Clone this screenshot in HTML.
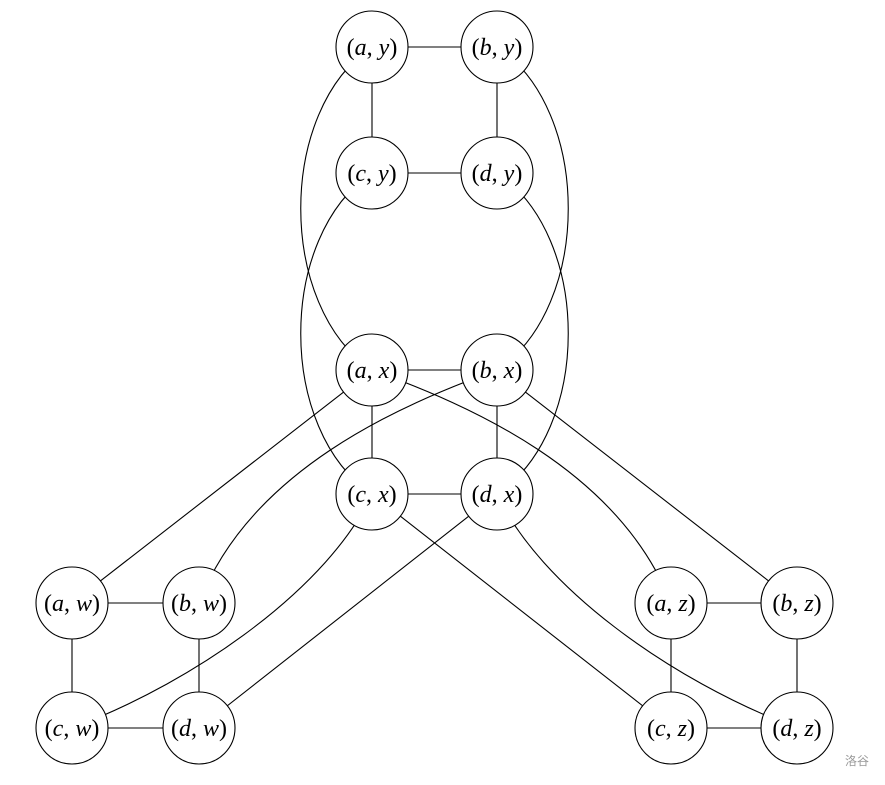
<!DOCTYPE html>
<html><head><meta charset="utf-8"><style>
html,body{margin:0;padding:0;background:#fff;}
svg text{font-family:"Liberation Serif",serif;font-size:24px;}
</style></head><body>
<svg width="885" height="780" viewBox="0 0 885 780" xmlns="http://www.w3.org/2000/svg">
<g stroke="#000" stroke-width="1.1" fill="none">
<!-- squares -->
<path d="M372,47H497M372,173H497M372,47V173M497,47V173"/>
<path d="M372,370H497M372,494H497M372,370V494M497,370V494"/>
<path d="M72,603H199M72,728H199M72,603V728M199,603V728"/>
<path d="M671,603H797M671,728H797M671,603V728M797,603V728"/>
<!-- arcs -->
<path d="M372,47 C277,110 277,307 372,370"/>
<path d="M372,173 C277,236 277,431 372,494"/>
<path d="M497,47 C592,110 592,307 497,370"/>
<path d="M497,173 C592,236 592,431 497,494"/>
<!-- to w -->
<path d="M372,370 L72,603"/>
<path d="M497,370 C400,405 250,470 199,603"/>
<path d="M372,494 C330,585 200,680 72,728"/>
<path d="M497,494 L199,728"/>
<!-- to z -->
<path d="M497,370 L797,603"/>
<path d="M372,370 C469,405 619,470 671,603"/>
<path d="M497,494 C539,585 669,680 797,728"/>
<path d="M372,494 L671,728"/>
</g>
<g stroke="#000" stroke-width="1.1" fill="#fff">
<circle cx="372" cy="47" r="36"/><circle cx="497" cy="47" r="36"/>
<circle cx="372" cy="173" r="36"/><circle cx="497" cy="173" r="36"/>
<circle cx="372" cy="370" r="36"/><circle cx="497" cy="370" r="36"/>
<circle cx="372" cy="494" r="36"/><circle cx="497" cy="494" r="36"/>
<circle cx="72" cy="603" r="36"/><circle cx="199" cy="603" r="36"/>
<circle cx="72" cy="728" r="36"/><circle cx="199" cy="728" r="36"/>
<circle cx="671" cy="603" r="36"/><circle cx="797" cy="603" r="36"/>
<circle cx="671" cy="728" r="36"/><circle cx="797" cy="728" r="36"/>
</g>
<g text-anchor="middle" fill="#000">
<text x="372" y="55">(<tspan font-style="italic">a</tspan>, <tspan font-style="italic">y</tspan>)</text>
<text x="497" y="55">(<tspan font-style="italic">b</tspan>, <tspan font-style="italic">y</tspan>)</text>
<text x="372" y="181">(<tspan font-style="italic">c</tspan>, <tspan font-style="italic">y</tspan>)</text>
<text x="497" y="181">(<tspan font-style="italic">d</tspan>, <tspan font-style="italic">y</tspan>)</text>
<text x="372" y="378">(<tspan font-style="italic">a</tspan>, <tspan font-style="italic">x</tspan>)</text>
<text x="497" y="378">(<tspan font-style="italic">b</tspan>, <tspan font-style="italic">x</tspan>)</text>
<text x="372" y="502">(<tspan font-style="italic">c</tspan>, <tspan font-style="italic">x</tspan>)</text>
<text x="497" y="502">(<tspan font-style="italic">d</tspan>, <tspan font-style="italic">x</tspan>)</text>
<text x="72" y="611">(<tspan font-style="italic">a</tspan>, <tspan font-style="italic">w</tspan>)</text>
<text x="199" y="611">(<tspan font-style="italic">b</tspan>, <tspan font-style="italic">w</tspan>)</text>
<text x="72" y="736">(<tspan font-style="italic">c</tspan>, <tspan font-style="italic">w</tspan>)</text>
<text x="199" y="736">(<tspan font-style="italic">d</tspan>, <tspan font-style="italic">w</tspan>)</text>
<text x="671" y="611">(<tspan font-style="italic">a</tspan>, <tspan font-style="italic">z</tspan>)</text>
<text x="797" y="611">(<tspan font-style="italic">b</tspan>, <tspan font-style="italic">z</tspan>)</text>
<text x="671" y="736">(<tspan font-style="italic">c</tspan>, <tspan font-style="italic">z</tspan>)</text>
<text x="797" y="736">(<tspan font-style="italic">d</tspan>, <tspan font-style="italic">z</tspan>)</text>
</g>
<text x="857" y="765" text-anchor="middle" fill="#999" style="font-family:'Liberation Sans','Noto Sans CJK SC',sans-serif;font-size:12px;">洛谷</text>
</svg>
</body></html>
